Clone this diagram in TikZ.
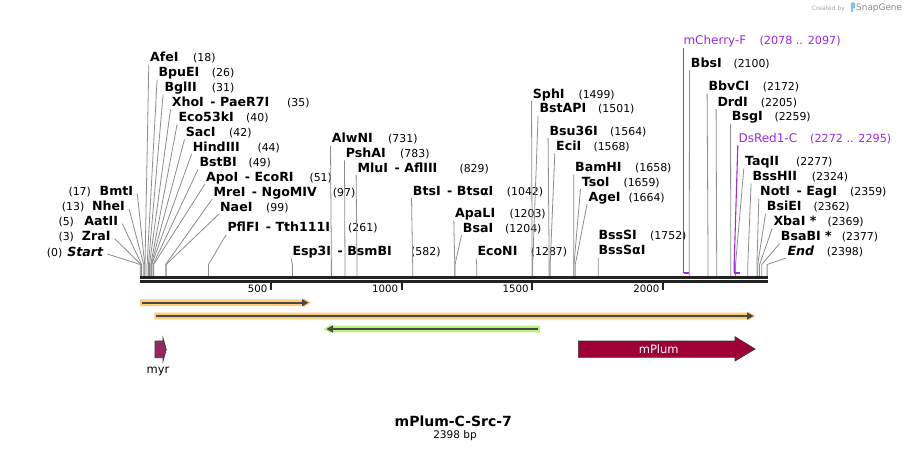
\documentclass[tikz,border=0pt]{standalone}
\usepackage{fontspec}
\setmainfont{DejaVu Sans}
\usetikzlibrary{calc}
\definecolor{conncol}{RGB}{140,140,140}
\definecolor{bbcol}{RGB}{34,34,34}
\definecolor{primcol}{RGB}{160,40,235}
\definecolor{orangehl}{RGB}{255,204,120}
\definecolor{greenhl}{RGB}{185,240,130}
\definecolor{arrowdark}{RGB}{72,72,72}
\definecolor{myrcol}{RGB}{150,40,95}
\definecolor{plumcol}{RGB}{160,0,56}
\definecolor{logoblue}{RGB}{120,195,240}
\tikzset{
  rname/.style={inner sep=0pt, font=\fontsize{12.6}{14}\selectfont\bfseries},
  rnum/.style={inner sep=0pt, font=\fontsize{10.9}{13}\selectfont},
  pname/.style={inner sep=0pt, text=primcol, font=\fontsize{12}{14}\selectfont},
  pnum/.style={inner sep=0pt, text=primcol, font=\fontsize{11.2}{13}\selectfont},
  conn/.style={draw=conncol, line width=0.8pt},
  prim/.style={draw=primcol, line width=1.1pt},
  primbar/.style={draw=primcol, line width=2pt},
  bbline/.style={draw=bbcol, line width=2.6pt},
  tickmark/.style={draw=bbcol, line width=2pt},
  rulerlbl/.style={inner sep=0pt, font=\fontsize{10.2}{12}\selectfont},
  darkline/.style={draw=arrowdark, line width=2pt},
  featlbl/.style={inner sep=0pt, font=\fontsize{11.5}{13}\selectfont}
}
\newcommand{\dsh}{\hspace{6.5pt}-\hspace{4.5pt}}
% right-hand label: id, bp, label x, baseline, name, number x, number
\newcommand{\RSite}[7]{%
  \coordinate (b#1) at ({140.3+0.2614*#2},276);
  \coordinate (k#1) at ({140.3+0.2614*#2},264.5);
  \node[rname,anchor=base west] (n#1) at (#3,#4) {#5};
  \node[rnum,anchor=base west] (m#1) at (#6,#4) {#7};
  \draw[conn] (b#1) -- (k#1) -- ($(n#1.base west)+(-1.2,3)$);
}
% left-hand label: id, bp, name right x, baseline, name, number x, number
\newcommand{\LSite}[7]{%
  \coordinate (b#1) at ({140.3+0.2614*#2},276);
  \coordinate (k#1) at ({140.3+0.2614*#2},264.5);
  \node[rname,anchor=base east] (n#1) at (#3,#4) {#5};
  \node[rnum,anchor=base west] (m#1) at (#6,#4) {#7};
  \draw[conn] (b#1) -- (k#1) -- ($(n#1.base east)+(4,-2)$);
}
\begin{document}
\begin{tikzpicture}[x=1pt,y=-1pt]
\useasboundingbox (0,0) rectangle (909,452);
\fill[white] (0,0) rectangle (909,452);

% ---- restriction sites, right-hand labels
\RSite{afei}{18}{150}{61.7}{AfeI}{193}{(18)}
\RSite{bpuei}{26}{158.3}{76.6}{BpuEI}{211.7}{(26)}
\RSite{bglii}{31}{164.3}{91.5}{BglII}{211.7}{(31)}
\RSite{xhoi}{35}{171.7}{106.5}{XhoI\dsh PaeR7I}{287}{(35)}
\RSite{eco}{40}{178.3}{121.4}{Eco53kI}{246}{(40)}
\RSite{saci}{42}{185.7}{136.4}{SacI}{229}{(42)}
\RSite{hind}{44}{192.7}{151.3}{HindIII}{257.3}{(44)}
\RSite{bstbi}{49}{199.3}{166.3}{BstBI}{248.3}{(49)}
\RSite{apoi}{51}{206}{181.2}{ApoI\dsh EcoRI}{309.3}{(51)}
\RSite{mrei}{97}{213.3}{196.2}{MreI\dsh NgoMIV}{332.7}{(97)}
\RSite{naei}{99}{220}{211.1}{NaeI}{266}{(99)}
\RSite{pflfi}{261}{227.3}{231.7}{PflFI\dsh Tth111I}{348}{(261)}
\RSite{alwni}{731}{331.7}{142.5}{AlwNI}{388}{(731)}
\RSite{pshai}{783}{345.7}{157.3}{PshAI}{400}{(783)}
\RSite{mlui}{829}{357.3}{172}{MluI\dsh AflIII}{459.3}{(829)}
\RSite{esp}{582}{292.3}{255.5}{Esp3I\dsh BsmBI}{411}{(582)}
\RSite{btsi}{1042}{412.7}{195}{BtsI\dsh BtsαI}{506.7}{(1042)}
\RSite{apali}{1203}{455}{217.3}{ApaLI}{509.3}{(1203)}
\RSite{bsai}{1204}{462.7}{232.3}{BsaI}{505}{(1204)}
\RSite{econi}{1287}{477.3}{255.7}{EcoNI}{530.7}{(1287)}
\RSite{sphi}{1499}{532.7}{98}{SphI}{578.3}{(1499)}
\RSite{bstapi}{1501}{539.3}{112.7}{BstAPI}{598}{(1501)}
\RSite{bsu}{1564}{549.3}{135}{Bsu36I}{610}{(1564)}
\RSite{ecii}{1568}{556}{150.5}{EciI}{593.3}{(1568)}
\RSite{bamhi}{1658}{575}{171.7}{BamHI}{635}{(1658)}
\RSite{tsoi}{1659}{581.7}{186}{TsoI}{623.3}{(1659)}
\RSite{agei}{1664}{588.3}{201}{AgeI}{628.3}{(1664)}
\node[rname,anchor=base west] (nbsssi) at (598.3,239) {BssSI};
\node[rnum,anchor=base west] (mbsssi) at (650,239) {(1752)};
\coordinate (bbsssa) at ({140.3+0.2614*1752},276);
\node[rname,anchor=base west] (nbsssa) at (598.3,254.5) {BssSαI};
\draw[conn] (bbsssa) -- ($(nbsssa.base west)+(0,3)$);
\RSite{bbsi}{2100}{690.7}{67.3}{BbsI}{733.3}{(2100)}
\RSite{bbvci}{2172}{708.3}{90.7}{BbvCI}{762.7}{(2172)}
\RSite{drdi}{2205}{717.3}{106}{DrdI}{760.7}{(2205)}
\RSite{bsgi}{2259}{731.7}{120.7}{BsgI}{774.3}{(2259)}
\RSite{taqii}{2277}{745}{165.7}{TaqII}{796}{(2277)}
\RSite{bsshii}{2324}{752.3}{180.7}{BssHII}{811.7}{(2324)}
\RSite{noti}{2359}{760}{195.7}{NotI\dsh EagI}{850}{(2359)}
\RSite{bsiei}{2362}{766.7}{210.7}{BsiEI}{813.3}{(2362)}
\RSite{xbai}{2369}{773.3}{225.7}{XbaI *}{827.3}{(2369)}
\RSite{bsabi}{2377}{780.7}{240.7}{BsaBI *}{841.7}{(2377)}
\RSite{endp}{2398}{787.3}{255}{\itshape End}{826.7}{(2398)}

% ---- left-hand labels
\LSite{bmti}{17}{133.3}{195.7}{BmtI}{68.3}{(17)}
\LSite{nhei}{13}{125}{210.7}{NheI}{61.7}{(13)}
\LSite{aatii}{5}{118.3}{225.7}{AatII}{58.3}{(5)}
\LSite{zrai}{3}{110.7}{240.7}{ZraI}{58.3}{(3)}
\LSite{start}{0}{103.3}{256}{\itshape Start}{46.7}{(0)}

% ---- primers
\node[pname,anchor=base west] (mch) at (683.3,45) {mCherry-F};
\node[pnum,anchor=base west] (mchn) at (759.3,45) {(2078 .. 2097)};
\coordinate (mchb) at (683.5,272.5);
\coordinate (mche) at (688.5,272.5);
\draw[prim] (mchb) -- ($(mch.base west)+(0.2,3)$);
\draw[primbar] (mchb) -- (mche);
\node[pname,anchor=base west] (dsr) at (738.3,142.3) {DsRed1-C};
\node[pnum,anchor=base west] (dsrn) at (810,142.3) {(2272 .. 2295)};
\coordinate (dsrb) at (734.2,272.5);
\coordinate (dsrk) at (734.2,264);
\coordinate (dsre) at (740.2,272.5);
\draw[prim] (dsrb) -- (dsrk) -- ($(dsr.base west)+(-0.5,3)$);
\draw[primbar] (dsrb) -- (dsre);

% ---- backbone
\coordinate (bbs1) at (140,277.2); \coordinate (bbe1) at (768,277.2);
\coordinate (bbs2) at (140,281.4); \coordinate (bbe2) at (768,281.4);
\draw[bbline] (bbs1) -- (bbe1);
\draw[bbline] (bbs2) -- (bbe2);

% ---- ruler
\foreach \v in {500,1000,1500,2000}{
  \coordinate (r\v) at ({140.3+0.2614*\v},282.5);
  \draw[tickmark] (r\v) -- ++(0,7);
  \node[rulerlbl,anchor=base east] (rl\v) at ($(r\v)+(-3.5,10.2)$) {\v};
}

% ---- feature arrows
\fill[orangehl] (140,299.3) -- (303.5,299.3) -- (303.5,298.3) -- (311,302.7) -- (303.5,307.1) -- (303.5,306.1) -- (140,306.1) -- cycle;
\draw[darkline] (141.5,302.7) -- (303,302.7);
\fill[arrowdark] (302,299) -- (308.5,302.7) -- (302,306.4) -- cycle;

\fill[orangehl] (154.3,312.6) -- (748,312.6) -- (748,311.6) -- (755.7,316) -- (748,320.4) -- (748,319.4) -- (154.3,319.4) -- cycle;
\draw[darkline] (156,316) -- (748,316);
\fill[arrowdark] (747,312.3) -- (753.5,316) -- (747,319.7) -- cycle;

\fill[greenhl] (540,325.6) -- (331,325.6) -- (331,324.6) -- (323.3,329) -- (331,333.4) -- (331,332.4) -- (540,332.4) -- cycle;
\draw[darkline] (538.3,329) -- (332,329);
\fill[arrowdark] (333,325.3) -- (326.5,329) -- (333,332.7) -- cycle;

% ---- features
\draw[fill=myrcol, draw=black!80, line width=0.6pt] (155,341) -- (163,341) -- (163,337.7) -- (166.3,349.5) -- (163,361.3) -- (163,357.7) -- (155,357.7) -- cycle;
\node[featlbl,anchor=base] (myr) at (158,373.3) {myr};
\draw[fill=plumcol, draw=black!80, line width=0.6pt] (578.3,341) -- (735,341) -- (735,336.7) -- (755,349) -- (735,361) -- (735,357.3) -- (578.3,357.3) -- cycle;
\node[featlbl,anchor=base,text=white] (mplum) at (658.7,353.3) {mPlum};

% ---- title
\node[inner sep=0pt,anchor=base,font=\fontsize{14}{16}\selectfont\bfseries] (title) at (453.3,426.7) {mPlum-C-Src-7};
\node[inner sep=0pt,anchor=base,font=\fontsize{10.5}{12}\selectfont] (size) at (455,438.5) {2398 bp};

% ---- logo
\node[inner sep=0pt,anchor=base west,font=\fontsize{6}{7}\selectfont,text=black!35] (crby) at (811.7,10.3) {Created by};
\fill[logoblue,rounded corners=1pt] (850.8,2.5) rectangle (855,8.5);
\fill[logoblue] (850.8,7) rectangle (852.7,12);
\node[inner sep=0pt,anchor=base west,font=\fontsize{8.9}{10}\selectfont,text=black!45] (sg) at (856,10.5) {SnapGene};
\end{tikzpicture}
\end{document}
